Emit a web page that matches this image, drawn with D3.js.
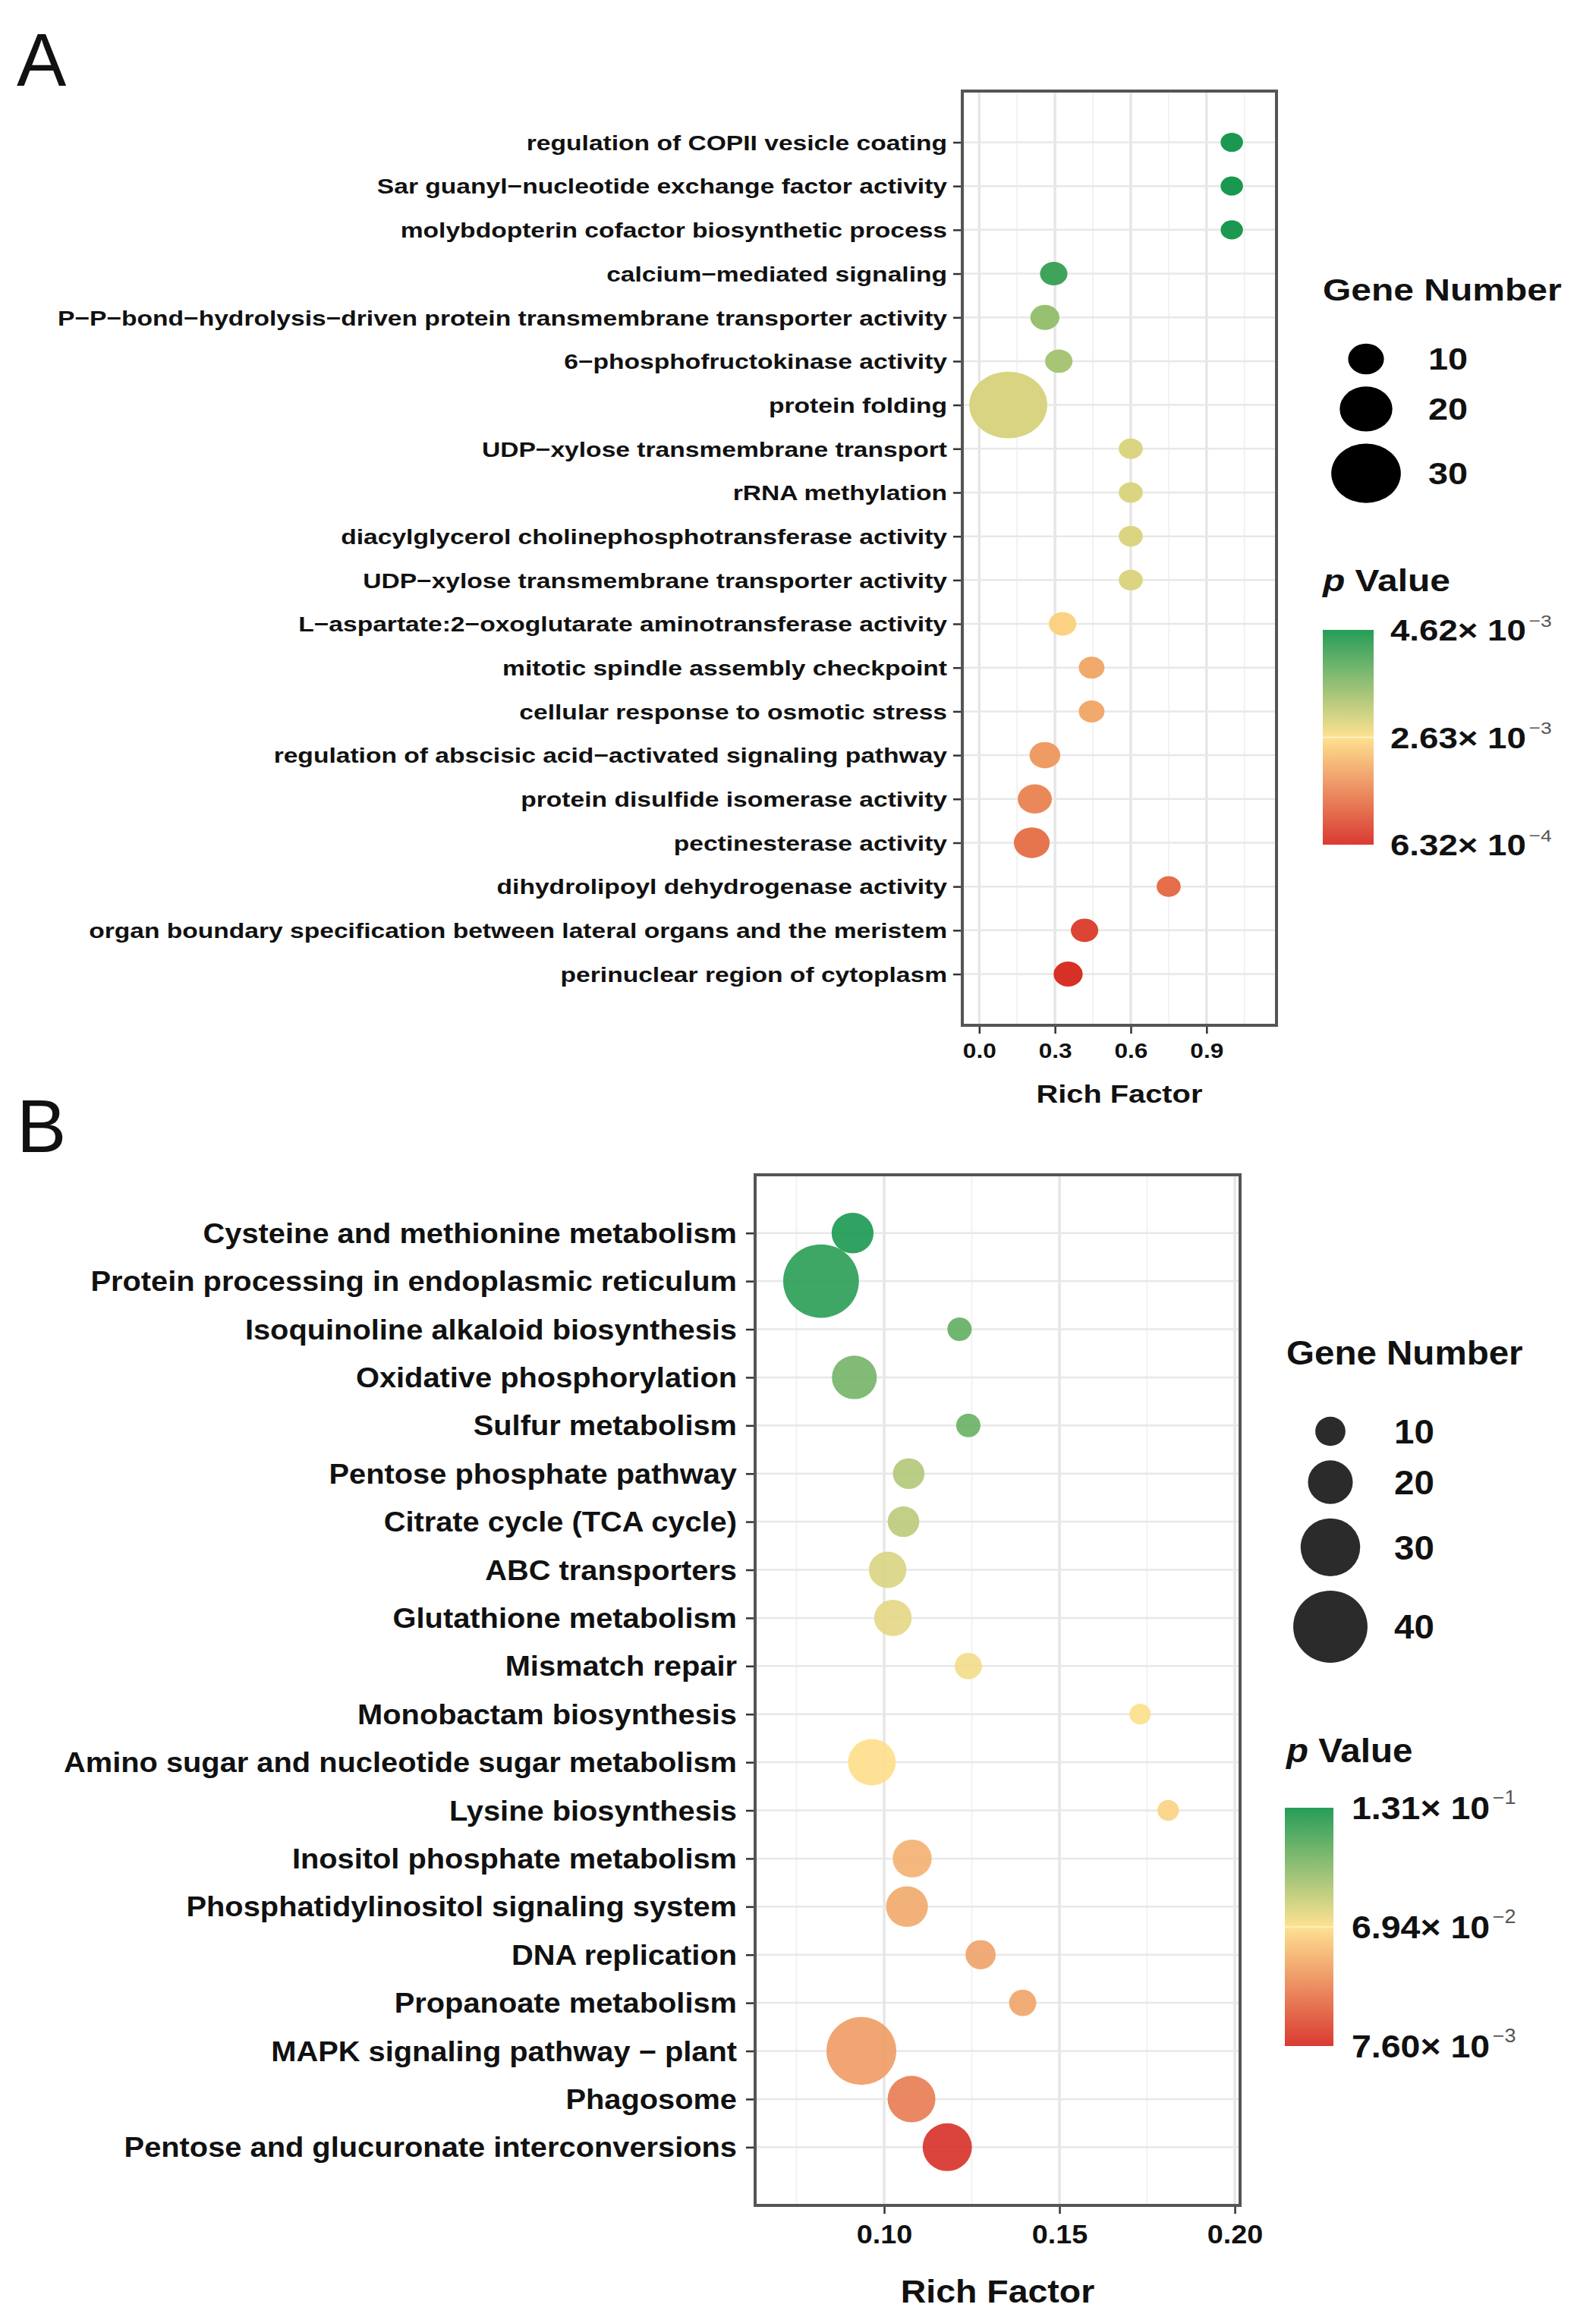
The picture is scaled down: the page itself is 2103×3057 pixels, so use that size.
<!DOCTYPE html>
<html>
<head>
<meta charset="utf-8">
<script src="https://cdn.jsdelivr.net/npm/d3@7"></script>
<style>
body { margin: 0; background: #fff; }
svg { display: block; }
text { font-family: "Liberation Sans", Arial, sans-serif; font-weight: bold; fill: #111; }
</style>
</head>
<body>
<script>
var svgWidth = 2103
var svgHeight = 3057

// ---- panel A: GO terms (top to bottom)
var termsA = [
	"regulation of COPII vesicle coating",
	"Sar guanyl\u2212nucleotide exchange factor activity",
	"molybdopterin cofactor biosynthetic process",
	"calcium\u2212mediated signaling",
	"P\u2212P\u2212bond\u2212hydrolysis\u2212driven protein transmembrane transporter activity",
	"6\u2212phosphofructokinase activity",
	"protein folding",
	"UDP\u2212xylose transmembrane transport",
	"rRNA methylation",
	"diacylglycerol cholinephosphotransferase activity",
	"UDP\u2212xylose transmembrane transporter activity",
	"L\u2212aspartate:2\u2212oxoglutarate aminotransferase activity",
	"mitotic spindle assembly checkpoint",
	"cellular response to osmotic stress",
	"regulation of abscisic acid\u2212activated signaling pathway",
	"protein disulfide isomerase activity",
	"pectinesterase activity",
	"dihydrolipoyl dehydrogenase activity",
	"organ boundary specification between lateral organs and the meristem",
	"perinuclear region of cytoplasm"]
var richA = [1.0, 1.0, 1.0, 0.295, 0.26, 0.315, 0.115, 0.6, 0.6, 0.6, 0.6, 0.33, 0.445, 0.445, 0.26, 0.22, 0.208, 0.75, 0.417, 0.352]
var genesA = [2, 2, 2, 5, 6, 5, 35, 3, 3, 3, 3, 5, 4, 4, 7, 9, 10, 3, 5, 6]
var pvalA = [4.62e-3, 4.62e-3, 4.62e-3, 4.3e-3, 3.52e-3, 3.38e-3, 2.96e-3, 2.93e-3, 2.93e-3, 2.93e-3, 2.93e-3,
	2.47e-3, 2.0e-3, 2.0e-3, 1.85e-3, 1.63e-3, 1.41e-3, 1.33e-3, 8.7e-4, 6.32e-4]
var xTicksA = [0, 0.3, 0.6, 0.9]
var xMinorA = [0.15, 0.45, 0.75, 1.05]
var sizeBreaksA = [10, 20, 30]

// ---- panel B: KEGG pathways (top to bottom)
var termsB = [
	"Cysteine and methionine metabolism",
	"Protein processing in endoplasmic reticulum",
	"Isoquinoline alkaloid biosynthesis",
	"Oxidative phosphorylation",
	"Sulfur metabolism",
	"Pentose phosphate pathway",
	"Citrate cycle (TCA cycle)",
	"ABC transporters",
	"Glutathione metabolism",
	"Mismatch repair",
	"Monobactam biosynthesis",
	"Amino sugar and nucleotide sugar metabolism",
	"Lysine biosynthesis",
	"Inositol phosphate metabolism",
	"Phosphatidylinositol signaling system",
	"DNA replication",
	"Propanoate metabolism",
	"MAPK signaling pathway \u2212 plant",
	"Phagosome",
	"Pentose and glucuronate interconversions"]
var richB = [0.091, 0.082, 0.1215, 0.0915, 0.124, 0.107, 0.1055, 0.101, 0.1025, 0.124, 0.173, 0.0965, 0.181,
	0.108, 0.1065, 0.1275, 0.1395, 0.0935, 0.1078, 0.118]
var genesB = [18, 41, 6, 20, 6, 11, 11, 15, 15, 8, 4, 22, 4, 16, 18, 10, 8, 37, 22, 23]
var pvalB = [0.1312, 0.127, 0.112, 0.107, 0.110, 0.0897, 0.0878, 0.0798, 0.0767, 0.0724, 0.0700, 0.0688, 0.0641,
	0.0527, 0.0502, 0.0477, 0.048, 0.0452, 0.0341, 0.0076]
var xTicksB = [0.10, 0.15, 0.20]
var xMinorB = [0.075, 0.125, 0.175]
var sizeBreaksB = [10, 20, 30, 40]

var colorStops = ["#d73027", "#fee08b", "#1a9850"]

var svg = d3.select("body")
	.append("svg")
	.attr("width", svgWidth)
	.attr("height", svgHeight)
	.style("background-color", "white")

// widen text horizontally by sx (panel A is a stretched figure)
var stretch = function(sel, sx) {
	sel.each(function() {
		var w = this.getComputedTextLength()
		d3.select(this).attr("textLength", w * sx).attr("lengthAdjust", "spacingAndGlyphs")
	})
}

var addPValueLabel = function(g, v, x, y, font, sx) {
	var parts = v.toExponential(2).split("e")
	var exp = +parts[1]
	var t = g.append("g")
		.attr("transform", "translate(" + x + "," + y + ") scale(" + sx + ",1)")
		.append("text")
		.style("font-size", font + "px")
	t.append("tspan").text(parts[0] + "\u00d7 10")
	t.append("tspan")
		.attr("dx", font * 0.08)
		.attr("dy", -font * 0.47)
		.style("font-size", (font * 0.58) + "px")
		.style("font-weight", "normal")
		.style("fill", "#555")
		.text((exp < 0 ? "\u2212" : "") + Math.abs(exp))
}

var drawPanel = function(d) {
	var o = d.layout
	var g = svg.append("g").attr("id", "panel-" + o.letter)

	g.append("text")
		.attr("x", 22)
		.attr("y", o.letterY)
		.style("font-size", "98px")
		.style("font-weight", "normal")
		.text(o.letter)

	var x = d3.scaleLinear().domain(o.xDomain).range([o.left, o.right])
	var y = d3.scalePoint().domain(d.terms).range([o.top, o.bottom]).padding(o.pad)
	var lo = d3.min(d.pvals), hi = d3.max(d.pvals)
	var color = d3.scaleLinear()
		.domain([lo, (lo + hi) / 2, hi])
		.range(colorStops)
		.interpolate(d3.interpolateRgb)
	var ry = d3.scaleLinear().domain(d3.extent(d.genes)).range(o.rRange)

	// grid
	var grid = g.append("g")
	grid.selectAll("line.minor")
		.data(d.xMinor.filter(function(v) { return v > o.xDomain[0] && v < o.xDomain[1] }))
		.enter().append("line")
		.attr("x1", x).attr("x2", x)
		.attr("y1", o.top).attr("y2", o.bottom)
		.attr("stroke", "#f2f2f2").attr("stroke-width", 2)
	grid.selectAll("line.major")
		.data(d.xTicks)
		.enter().append("line")
		.attr("x1", x).attr("x2", x)
		.attr("y1", o.top).attr("y2", o.bottom)
		.attr("stroke", "#e6e6e6").attr("stroke-width", 3.5)
	grid.selectAll("line.row")
		.data(d.terms)
		.enter().append("line")
		.attr("x1", o.left).attr("x2", o.right)
		.attr("y1", y).attr("y2", y)
		.attr("stroke", "#e8e8e8").attr("stroke-width", 2.5)

	// points
	var rows = d.terms.map(function(t, i) {
		return {term: t, rich: d.rich[i], genes: d.genes[i], p: d.pvals[i]}
	})
	g.append("g").selectAll("ellipse")
		.data(rows)
		.enter().append("ellipse")
		.attr("cx", function(r) { return x(r.rich) })
		.attr("cy", function(r) { return y(r.term) })
		.attr("ry", function(r) { return ry(r.genes) })
		.attr("rx", function(r) { return ry(r.genes) * o.ellipse })
		.style("fill", function(r) { return color(r.p) })
		.style("opacity", o.ptOpacity)

	// frame
	g.append("rect")
		.attr("x", o.left).attr("y", o.top)
		.attr("width", o.right - o.left).attr("height", o.bottom - o.top)
		.attr("fill", "none").attr("stroke", "#555").attr("stroke-width", 4)

	// y axis
	var yAxis = g.append("g")
		.attr("transform", "translate(" + (o.left - 2) + ",0)")
		.call(d3.axisLeft(y).tickSize(10).tickPadding(o.labelGap - 10))
	yAxis.select(".domain").remove()
	yAxis.selectAll(".tick line").attr("stroke", "#333").attr("stroke-width", 2.5)
	var yText = yAxis.selectAll(".tick text")
		.attr("dy", "0.35em")
		.style("font-size", o.labelFont + "px")
		.style("font-family", "'Liberation Sans', Arial, sans-serif")
		.style("font-weight", "bold")
		.attr("fill", "#111")
	var widest = 0
	yText.each(function() { widest = Math.max(widest, this.getComputedTextLength()) })
	stretch(yText, o.labelTarget / widest)

	// x axis
	var xAxis = g.append("g")
		.attr("transform", "translate(0," + (o.bottom + 2) + ")")
		.call(d3.axisBottom(x).tickValues(d.xTicks).tickSize(9).tickFormat(d3.format(o.tickFmt)))
	xAxis.select(".domain").remove()
	xAxis.selectAll(".tick line").attr("stroke", "#333").attr("stroke-width", 2.5)
	var xText = xAxis.selectAll(".tick text")
		.attr("y", o.tickCenterY - o.bottom - 2)
		.attr("dy", "0.36em")
		.style("font-size", o.tickFont + "px")
		.style("font-family", "'Liberation Sans', Arial, sans-serif")
		.style("font-weight", "bold")
		.attr("fill", "#111")
	stretch(xText, o.sx)

	var xTitle = g.append("text")
		.attr("x", (o.left + o.right) / 2)
		.attr("y", o.titleY)
		.attr("text-anchor", "middle")
		.style("font-size", o.titleFont + "px")
		.text("Rich Factor")
	stretch(xTitle, o.sx)

	// size legend
	var lg = g.append("g")
	stretch(lg.append("text")
		.attr("x", o.legX).attr("y", o.legTitleY)
		.style("font-size", o.legFont + "px")
		.text("Gene Number"), o.sx)
	var keyY = []
	d.sizeBreaks.forEach(function(b, i) {
		if (i === 0) {
			keyY.push(o.keyY0)
		} else {
			keyY.push(keyY[i - 1] + ry(d.sizeBreaks[i - 1]) + ry(b) + o.keyGap)
		}
	})
	lg.selectAll("ellipse")
		.data(d.sizeBreaks)
		.enter().append("ellipse")
		.attr("cx", o.keyX)
		.attr("cy", function(b, i) { return keyY[i] })
		.attr("ry", function(b) { return ry(b) })
		.attr("rx", function(b) { return ry(b) * o.ellipse })
		.style("fill", o.keyFill)
	var keyText = lg.selectAll("text.key")
		.data(d.sizeBreaks)
		.enter().append("text")
		.attr("class", "key")
		.attr("x", o.keyLabelX)
		.attr("y", function(b, i) { return keyY[i] })
		.attr("dy", "0.36em")
		.style("font-size", o.keyFont + "px")
		.text(function(b) { return b })
	stretch(keyText, o.sx)

	// colour legend
	var pTitle = lg.append("g")
		.attr("transform", "translate(" + o.legX + "," + o.pTitleY + ") scale(" + o.sx + ",1)")
		.append("text")
		.style("font-size", o.legFont + "px")
	pTitle.append("tspan").style("font-style", "italic").text("p")
	pTitle.append("tspan").text(" Value")

	var gradId = "grad-" + o.letter
	var grad = svg.append("defs").append("linearGradient")
		.attr("id", gradId)
		.attr("x1", 0).attr("y1", 0).attr("x2", 0).attr("y2", 1)
	d3.range(0, 21).forEach(function(i) {
		var t = i / 20
		grad.append("stop")
			.attr("offset", t)
			.attr("stop-color", color(hi - t * (hi - lo)))
	})
	lg.append("rect")
		.attr("x", o.barX).attr("y", o.barTop)
		.attr("width", o.barW).attr("height", o.barBottom - o.barTop)
		.attr("fill", "url(#" + gradId + ")")
		.style("opacity", 0.95)
	var barScale = d3.scaleLinear().domain([lo, hi]).range([o.barBottom, o.barTop])
	var barVals = [hi, (lo + hi) / 2, lo]
	lg.selectAll("line.cbtick")
		.data([(lo + hi) / 2])
		.enter().append("line")
		.attr("x1", o.barX).attr("x2", o.barX + o.barW)
		.attr("y1", barScale).attr("y2", barScale)
		.attr("stroke", "white").attr("stroke-opacity", 0.6).attr("stroke-width", 1.5)
	barVals.forEach(function(v) {
		addPValueLabel(lg, v, o.barLabelX, barScale(v) + o.barFont * 0.36, o.barFont, o.sx)
	})
}

drawPanel({
	terms: termsA, rich: richA, genes: genesA, pvals: pvalA,
	xTicks: xTicksA, xMinor: xMinorA, sizeBreaks: sizeBreaksA,
	layout: {
		letter: "A", letterY: 113,
		left: 1268, right: 1682, top: 120, bottom: 1351,
		xDomain: [-0.067, 1.177], pad: 1.17,
		rRange: [12.6, 43.9], ellipse: 1.17, ptOpacity: 1, sx: 1.17,
		labelFont: 28, labelGap: 18, labelTarget: 1172,
		tickFont: 27, tickCenterY: 1384, tickFmt: ".1f",
		titleFont: 34, titleY: 1453,
		legX: 1743, legTitleY: 396, legFont: 41,
		keyX: 1800, keyY0: 473, keyGap: 16, keyLabelX: 1882, keyFont: 40, keyFill: "#000",
		pTitleY: 779, barX: 1743, barW: 67, barTop: 830, barBottom: 1113,
		barLabelX: 1832, barFont: 39
	}
})

drawPanel({
	terms: termsB, rich: richB, genes: genesB, pvals: pvalB,
	xTicks: xTicksB, xMinor: xMinorB, sizeBreaks: sizeBreaksB,
	layout: {
		letter: "B", letterY: 1518,
		left: 995, right: 1634, top: 1548, bottom: 2906,
		xDomain: [0.0632, 0.2015], pad: 1.21,
		rRange: [13.66, 48.45], ellipse: 1.03, ptOpacity: 0.9, sx: 1.08,
		labelFont: 36, labelGap: 22, labelTarget: 887,
		tickFont: 35, tickCenterY: 2943, tickFmt: ".2f",
		titleFont: 43, titleY: 3034,
		legX: 1695, legTitleY: 1798, legFont: 44,
		keyX: 1753, keyY0: 1886, keyGap: 19, keyLabelX: 1837, keyFont: 44, keyFill: "#2b2b2b",
		pTitleY: 2322, barX: 1693, barW: 64, barTop: 2382, barBottom: 2696,
		barLabelX: 1781, barFont: 43
	}
})
</script>
</body>
</html>
